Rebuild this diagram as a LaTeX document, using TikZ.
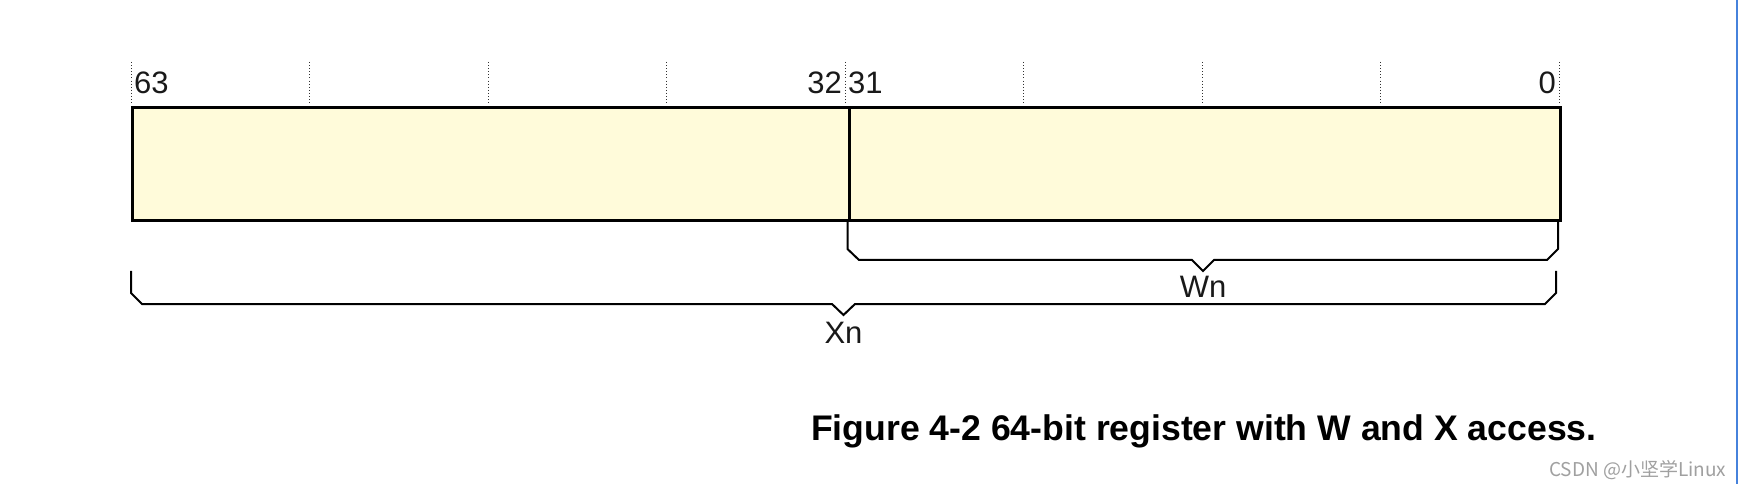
\documentclass[tikz,border=0pt]{standalone}
\usepackage{fontspec}
\setmainfont{Liberation Sans}
\newfontfamily\cjkfont{Noto Sans CJK SC}
\usetikzlibrary{calc}
\definecolor{regfill}{RGB}{255,251,218}
\definecolor{tickgray}{RGB}{50,50,50}
\definecolor{wmgray}{RGB}{160,160,160}
\definecolor{edgeblue}{RGB}{70,130,220}
\begin{document}
\begin{tikzpicture}[x=1pt,y=-1pt,
  regbox/.style={draw=black, line width=3pt, fill=regfill, inner sep=0pt, anchor=north west},
  tickline/.style={draw=tickgray, line width=0.9pt, dash pattern=on 0.9pt off 2.2pt},
  bitlabel/.style={inner sep=0pt, text=black!90, font=\fontsize{31}{31}\selectfont},
  bracket/.style={draw=black, line width=2pt, line join=miter},
  caption/.style={inner sep=0pt, anchor=base west, font=\bfseries\fontsize{35.6}{36}\selectfont},
  watermark/.style={inner sep=0pt, anchor=base west, text=wmgray, font=\cjkfont\fontsize{19}{19}\selectfont}]
\useasboundingbox (0,0) rectangle (1742,486);
\fill[white] (0,0) rectangle (1742,486);
% bit ticks
\foreach \i in {0,...,8}
  \draw[tickline] ({131+178.5*\i},62) -- ({131+178.5*\i},104);
% register halves
\node[regbox, minimum width=716.5pt, minimum height=112.5pt] (hi) at (131,106.5) {};
\node[regbox, minimum width=711.5pt, minimum height=112.5pt] (lo) at (847.5,106.5) {};
% bit numbers
\node[bitlabel, anchor=base west] (b63) at (134,94) {63};
\node[bitlabel, anchor=base east] (b32) at (842,94) {32};
\node[bitlabel, anchor=base west] (b31) at (848,94) {31};
\node[bitlabel, anchor=base east] (b0) at (1556,94) {0};
% Wn bracket
\coordinate (wl) at (847.5,222);
\coordinate (wr) at (1558,222);
\draw[bracket] (wl) -- (847.5,249) -- (859,260) -- (1192,260) -- (1203,271)
  -- (1214,260) -- (1547,260) -- (1558,249) -- (wr);
\node[bitlabel, anchor=base] (wn) at (1203,298) {Wn};
% Xn bracket
\coordinate (xl) at (131,271);
\coordinate (xr) at (1556,271);
\draw[bracket] (xl) -- (131,293) -- (142,304) -- (832,304) -- (843.5,315)
  -- (855,304) -- (1545,304) -- (1556,293) -- (xr);
\node[bitlabel, anchor=base] (xn) at (843.5,343) {Xn};
% caption
\node[caption] (cap) at (811,440) {Figure 4-2 64-bit register with W and X access.};
\node[watermark] (wm) at (1549,476) {CSDN @小坚学Linux};
% right edge line
\coordinate (et) at (1737,0);
\coordinate (eb) at (1737,484);
\draw[edgeblue, line width=1.5pt] (et) -- (eb);
\end{tikzpicture}
\end{document}
